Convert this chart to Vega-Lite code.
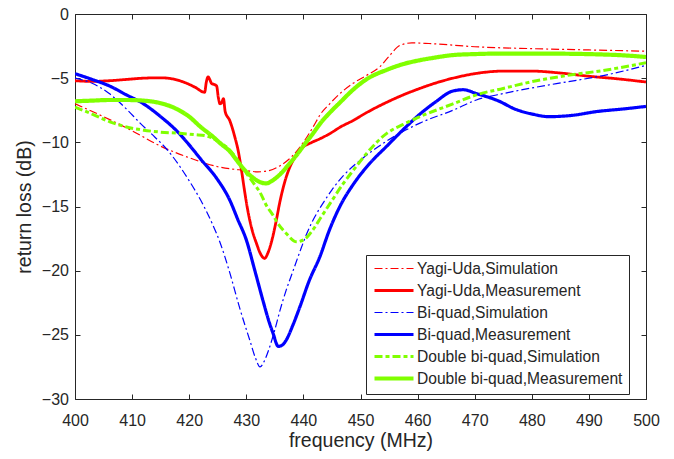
{
  "$schema": "https://vega.github.io/schema/vega-lite/v6.json",
  "width": 571,
  "height": 385,
  "autosize": {"type": "none"},
  "padding": {"left": 75, "top": 14, "right": 28, "bottom": 60},
  "background": "white",
  "config": {
    "view": {"stroke": null},
    "font": "Liberation Sans",
    "axis": {
      "domainColor": "#262626",
      "tickColor": "#262626",
      "labelColor": "#262626",
      "titleColor": "#262626",
      "labelFont": "Liberation Sans",
      "titleFont": "Liberation Sans",
      "labelFontSize": 16,
      "titleFontSize": 19.5,
      "titleFontWeight": "normal",
      "grid": false,
      "tickSize": -5,
      "domainWidth": 1,
      "tickWidth": 1
    }
  },
  "data": {"values": [
    {"f":400,"db":-7.0,"s":"Yagi-Uda,Simulation"},
    {"f":405,"db":-8.0,"s":"Yagi-Uda,Simulation"},
    {"f":410,"db":-9.1,"s":"Yagi-Uda,Simulation"},
    {"f":415,"db":-10.3,"s":"Yagi-Uda,Simulation"},
    {"f":420,"db":-11.2,"s":"Yagi-Uda,Simulation"},
    {"f":425,"db":-11.9,"s":"Yagi-Uda,Simulation"},
    {"f":430,"db":-12.2,"s":"Yagi-Uda,Simulation"},
    {"f":432,"db":-12.3,"s":"Yagi-Uda,Simulation"},
    {"f":434,"db":-12.2,"s":"Yagi-Uda,Simulation"},
    {"f":436,"db":-11.8,"s":"Yagi-Uda,Simulation"},
    {"f":438,"db":-11.1,"s":"Yagi-Uda,Simulation"},
    {"f":440,"db":-10.0,"s":"Yagi-Uda,Simulation"},
    {"f":441.7,"db":-8.8,"s":"Yagi-Uda,Simulation"},
    {"f":443,"db":-7.8,"s":"Yagi-Uda,Simulation"},
    {"f":444.6,"db":-7.0,"s":"Yagi-Uda,Simulation"},
    {"f":446.4,"db":-6.2,"s":"Yagi-Uda,Simulation"},
    {"f":448.7,"db":-5.4,"s":"Yagi-Uda,Simulation"},
    {"f":451,"db":-4.8,"s":"Yagi-Uda,Simulation"},
    {"f":453.4,"db":-4.1,"s":"Yagi-Uda,Simulation"},
    {"f":455,"db":-3.3,"s":"Yagi-Uda,Simulation"},
    {"f":456.9,"db":-2.45,"s":"Yagi-Uda,Simulation"},
    {"f":459,"db":-2.25,"s":"Yagi-Uda,Simulation"},
    {"f":462,"db":-2.3,"s":"Yagi-Uda,Simulation"},
    {"f":470,"db":-2.55,"s":"Yagi-Uda,Simulation"},
    {"f":480,"db":-2.7,"s":"Yagi-Uda,Simulation"},
    {"f":490,"db":-2.8,"s":"Yagi-Uda,Simulation"},
    {"f":500,"db":-2.9,"s":"Yagi-Uda,Simulation"},

    {"f":400,"db":-5.2,"s":"Yagi-Uda,Measurement"},
    {"f":403,"db":-5.25,"s":"Yagi-Uda,Measurement"},
    {"f":406,"db":-5.2,"s":"Yagi-Uda,Measurement"},
    {"f":409,"db":-5.1,"s":"Yagi-Uda,Measurement"},
    {"f":412,"db":-5.0,"s":"Yagi-Uda,Measurement"},
    {"f":415,"db":-4.97,"s":"Yagi-Uda,Measurement"},
    {"f":417,"db":-5.05,"s":"Yagi-Uda,Measurement"},
    {"f":419,"db":-5.3,"s":"Yagi-Uda,Measurement"},
    {"f":421,"db":-5.7,"s":"Yagi-Uda,Measurement"},
    {"f":422.7,"db":-6.1,"s":"Yagi-Uda,Measurement"},
    {"f":423.0,"db":-5.3,"s":"Yagi-Uda,Measurement"},
    {"f":423.3,"db":-4.9,"s":"Yagi-Uda,Measurement"},
    {"f":423.6,"db":-5.1,"s":"Yagi-Uda,Measurement"},
    {"f":423.9,"db":-5.4,"s":"Yagi-Uda,Measurement"},
    {"f":424.4,"db":-5.5,"s":"Yagi-Uda,Measurement"},
    {"f":424.8,"db":-5.6,"s":"Yagi-Uda,Measurement"},
    {"f":425.1,"db":-6.5,"s":"Yagi-Uda,Measurement"},
    {"f":425.4,"db":-7.0,"s":"Yagi-Uda,Measurement"},
    {"f":425.7,"db":-6.9,"s":"Yagi-Uda,Measurement"},
    {"f":426.0,"db":-6.6,"s":"Yagi-Uda,Measurement"},
    {"f":426.3,"db":-7.6,"s":"Yagi-Uda,Measurement"},
    {"f":427.1,"db":-8.3,"s":"Yagi-Uda,Measurement"},
    {"f":428.0,"db":-9.6,"s":"Yagi-Uda,Measurement"},
    {"f":428.6,"db":-10.7,"s":"Yagi-Uda,Measurement"},
    {"f":429.2,"db":-12.3,"s":"Yagi-Uda,Measurement"},
    {"f":429.7,"db":-13.8,"s":"Yagi-Uda,Measurement"},
    {"f":430.3,"db":-15.4,"s":"Yagi-Uda,Measurement"},
    {"f":431.0,"db":-16.8,"s":"Yagi-Uda,Measurement"},
    {"f":431.8,"db":-17.9,"s":"Yagi-Uda,Measurement"},
    {"f":432.5,"db":-18.7,"s":"Yagi-Uda,Measurement"},
    {"f":433.2,"db":-19.05,"s":"Yagi-Uda,Measurement"},
    {"f":433.8,"db":-18.6,"s":"Yagi-Uda,Measurement"},
    {"f":434.5,"db":-17.6,"s":"Yagi-Uda,Measurement"},
    {"f":435.2,"db":-16.2,"s":"Yagi-Uda,Measurement"},
    {"f":435.9,"db":-14.6,"s":"Yagi-Uda,Measurement"},
    {"f":436.6,"db":-13.3,"s":"Yagi-Uda,Measurement"},
    {"f":437.3,"db":-12.3,"s":"Yagi-Uda,Measurement"},
    {"f":438.2,"db":-11.4,"s":"Yagi-Uda,Measurement"},
    {"f":439,"db":-10.8,"s":"Yagi-Uda,Measurement"},
    {"f":440,"db":-10.35,"s":"Yagi-Uda,Measurement"},
    {"f":441.5,"db":-10.0,"s":"Yagi-Uda,Measurement"},
    {"f":443,"db":-9.7,"s":"Yagi-Uda,Measurement"},
    {"f":444.7,"db":-9.3,"s":"Yagi-Uda,Measurement"},
    {"f":446.5,"db":-8.8,"s":"Yagi-Uda,Measurement"},
    {"f":448.7,"db":-8.3,"s":"Yagi-Uda,Measurement"},
    {"f":451,"db":-7.7,"s":"Yagi-Uda,Measurement"},
    {"f":454.5,"db":-6.9,"s":"Yagi-Uda,Measurement"},
    {"f":457.5,"db":-6.3,"s":"Yagi-Uda,Measurement"},
    {"f":460.4,"db":-5.8,"s":"Yagi-Uda,Measurement"},
    {"f":463,"db":-5.4,"s":"Yagi-Uda,Measurement"},
    {"f":466.2,"db":-5.0,"s":"Yagi-Uda,Measurement"},
    {"f":470,"db":-4.65,"s":"Yagi-Uda,Measurement"},
    {"f":475,"db":-4.45,"s":"Yagi-Uda,Measurement"},
    {"f":480,"db":-4.45,"s":"Yagi-Uda,Measurement"},
    {"f":485,"db":-4.6,"s":"Yagi-Uda,Measurement"},
    {"f":490,"db":-4.85,"s":"Yagi-Uda,Measurement"},
    {"f":495,"db":-5.05,"s":"Yagi-Uda,Measurement"},
    {"f":500,"db":-5.3,"s":"Yagi-Uda,Measurement"},

    {"f":400,"db":-5.0,"s":"Bi-quad,Simulation"},
    {"f":403,"db":-5.4,"s":"Bi-quad,Simulation"},
    {"f":406,"db":-6.2,"s":"Bi-quad,Simulation"},
    {"f":409,"db":-7.4,"s":"Bi-quad,Simulation"},
    {"f":411.4,"db":-8.5,"s":"Bi-quad,Simulation"},
    {"f":414,"db":-9.6,"s":"Bi-quad,Simulation"},
    {"f":416,"db":-10.5,"s":"Bi-quad,Simulation"},
    {"f":418.4,"db":-11.9,"s":"Bi-quad,Simulation"},
    {"f":420,"db":-13.0,"s":"Bi-quad,Simulation"},
    {"f":422,"db":-14.5,"s":"Bi-quad,Simulation"},
    {"f":424,"db":-16.3,"s":"Bi-quad,Simulation"},
    {"f":425.4,"db":-17.8,"s":"Bi-quad,Simulation"},
    {"f":427,"db":-20.0,"s":"Bi-quad,Simulation"},
    {"f":428.9,"db":-23.0,"s":"Bi-quad,Simulation"},
    {"f":430.6,"db":-25.4,"s":"Bi-quad,Simulation"},
    {"f":431.6,"db":-26.8,"s":"Bi-quad,Simulation"},
    {"f":432.4,"db":-27.5,"s":"Bi-quad,Simulation"},
    {"f":433.2,"db":-27.0,"s":"Bi-quad,Simulation"},
    {"f":433.9,"db":-26.2,"s":"Bi-quad,Simulation"},
    {"f":435,"db":-24.6,"s":"Bi-quad,Simulation"},
    {"f":435.9,"db":-23.1,"s":"Bi-quad,Simulation"},
    {"f":437,"db":-21.5,"s":"Bi-quad,Simulation"},
    {"f":438.2,"db":-20.0,"s":"Bi-quad,Simulation"},
    {"f":439.4,"db":-18.5,"s":"Bi-quad,Simulation"},
    {"f":440.6,"db":-17.1,"s":"Bi-quad,Simulation"},
    {"f":442,"db":-15.8,"s":"Bi-quad,Simulation"},
    {"f":443.5,"db":-14.7,"s":"Bi-quad,Simulation"},
    {"f":445,"db":-13.7,"s":"Bi-quad,Simulation"},
    {"f":447,"db":-12.6,"s":"Bi-quad,Simulation"},
    {"f":450.5,"db":-11.2,"s":"Bi-quad,Simulation"},
    {"f":454.6,"db":-9.9,"s":"Bi-quad,Simulation"},
    {"f":460.4,"db":-8.5,"s":"Bi-quad,Simulation"},
    {"f":466.2,"db":-7.5,"s":"Bi-quad,Simulation"},
    {"f":470.3,"db":-6.7,"s":"Bi-quad,Simulation"},
    {"f":475,"db":-6.2,"s":"Bi-quad,Simulation"},
    {"f":480.8,"db":-5.7,"s":"Bi-quad,Simulation"},
    {"f":486,"db":-5.3,"s":"Bi-quad,Simulation"},
    {"f":492.5,"db":-4.8,"s":"Bi-quad,Simulation"},
    {"f":500,"db":-4.0,"s":"Bi-quad,Simulation"},

    {"f":400,"db":-4.65,"s":"Bi-quad,Measurement"},
    {"f":403,"db":-5.1,"s":"Bi-quad,Measurement"},
    {"f":406,"db":-5.6,"s":"Bi-quad,Measurement"},
    {"f":409,"db":-6.3,"s":"Bi-quad,Measurement"},
    {"f":412,"db":-7.0,"s":"Bi-quad,Measurement"},
    {"f":415,"db":-8.0,"s":"Bi-quad,Measurement"},
    {"f":417.8,"db":-9.1,"s":"Bi-quad,Measurement"},
    {"f":420,"db":-10.2,"s":"Bi-quad,Measurement"},
    {"f":422,"db":-11.3,"s":"Bi-quad,Measurement"},
    {"f":424.8,"db":-12.8,"s":"Bi-quad,Measurement"},
    {"f":427.1,"db":-14.5,"s":"Bi-quad,Measurement"},
    {"f":428.5,"db":-16.0,"s":"Bi-quad,Measurement"},
    {"f":430,"db":-17.6,"s":"Bi-quad,Measurement"},
    {"f":431.5,"db":-20.0,"s":"Bi-quad,Measurement"},
    {"f":432.9,"db":-22.3,"s":"Bi-quad,Measurement"},
    {"f":434,"db":-24.0,"s":"Bi-quad,Measurement"},
    {"f":434.7,"db":-24.9,"s":"Bi-quad,Measurement"},
    {"f":435.6,"db":-25.9,"s":"Bi-quad,Measurement"},
    {"f":436.3,"db":-25.8,"s":"Bi-quad,Measurement"},
    {"f":437,"db":-25.4,"s":"Bi-quad,Measurement"},
    {"f":438.2,"db":-24.2,"s":"Bi-quad,Measurement"},
    {"f":439.4,"db":-22.8,"s":"Bi-quad,Measurement"},
    {"f":441,"db":-20.8,"s":"Bi-quad,Measurement"},
    {"f":442.9,"db":-18.9,"s":"Bi-quad,Measurement"},
    {"f":444.5,"db":-16.9,"s":"Bi-quad,Measurement"},
    {"f":446.5,"db":-14.9,"s":"Bi-quad,Measurement"},
    {"f":448.7,"db":-13.3,"s":"Bi-quad,Measurement"},
    {"f":451.5,"db":-11.7,"s":"Bi-quad,Measurement"},
    {"f":454.6,"db":-10.3,"s":"Bi-quad,Measurement"},
    {"f":457.5,"db":-9.0,"s":"Bi-quad,Measurement"},
    {"f":460.4,"db":-7.8,"s":"Bi-quad,Measurement"},
    {"f":463,"db":-6.9,"s":"Bi-quad,Measurement"},
    {"f":466.2,"db":-6.0,"s":"Bi-quad,Measurement"},
    {"f":468,"db":-5.9,"s":"Bi-quad,Measurement"},
    {"f":470.3,"db":-6.2,"s":"Bi-quad,Measurement"},
    {"f":474.3,"db":-6.8,"s":"Bi-quad,Measurement"},
    {"f":477,"db":-7.4,"s":"Bi-quad,Measurement"},
    {"f":480.1,"db":-7.8,"s":"Bi-quad,Measurement"},
    {"f":483,"db":-8.0,"s":"Bi-quad,Measurement"},
    {"f":487,"db":-7.9,"s":"Bi-quad,Measurement"},
    {"f":491.4,"db":-7.6,"s":"Bi-quad,Measurement"},
    {"f":496,"db":-7.4,"s":"Bi-quad,Measurement"},
    {"f":500,"db":-7.2,"s":"Bi-quad,Measurement"},

    {"f":400,"db":-7.25,"s":"Double bi-quad,Simulation"},
    {"f":403,"db":-7.8,"s":"Double bi-quad,Simulation"},
    {"f":406.1,"db":-8.4,"s":"Double bi-quad,Simulation"},
    {"f":409,"db":-8.8,"s":"Double bi-quad,Simulation"},
    {"f":412,"db":-9.05,"s":"Double bi-quad,Simulation"},
    {"f":414.9,"db":-9.2,"s":"Double bi-quad,Simulation"},
    {"f":418.4,"db":-9.3,"s":"Double bi-quad,Simulation"},
    {"f":421,"db":-9.4,"s":"Double bi-quad,Simulation"},
    {"f":423,"db":-9.5,"s":"Double bi-quad,Simulation"},
    {"f":425,"db":-9.9,"s":"Double bi-quad,Simulation"},
    {"f":427.1,"db":-10.6,"s":"Double bi-quad,Simulation"},
    {"f":428.5,"db":-11.4,"s":"Double bi-quad,Simulation"},
    {"f":430,"db":-12.4,"s":"Double bi-quad,Simulation"},
    {"f":431.3,"db":-13.2,"s":"Double bi-quad,Simulation"},
    {"f":432.4,"db":-13.9,"s":"Double bi-quad,Simulation"},
    {"f":433.5,"db":-14.9,"s":"Double bi-quad,Simulation"},
    {"f":434.7,"db":-15.7,"s":"Double bi-quad,Simulation"},
    {"f":435.5,"db":-16.3,"s":"Double bi-quad,Simulation"},
    {"f":437,"db":-17.1,"s":"Double bi-quad,Simulation"},
    {"f":438.8,"db":-17.75,"s":"Double bi-quad,Simulation"},
    {"f":440,"db":-17.6,"s":"Double bi-quad,Simulation"},
    {"f":440.6,"db":-17.4,"s":"Double bi-quad,Simulation"},
    {"f":442,"db":-16.6,"s":"Double bi-quad,Simulation"},
    {"f":443,"db":-15.9,"s":"Double bi-quad,Simulation"},
    {"f":445.2,"db":-14.4,"s":"Double bi-quad,Simulation"},
    {"f":447,"db":-13.2,"s":"Double bi-quad,Simulation"},
    {"f":448.7,"db":-12.2,"s":"Double bi-quad,Simulation"},
    {"f":451,"db":-10.9,"s":"Double bi-quad,Simulation"},
    {"f":454.6,"db":-9.3,"s":"Double bi-quad,Simulation"},
    {"f":457.5,"db":-8.6,"s":"Double bi-quad,Simulation"},
    {"f":460.4,"db":-8.0,"s":"Double bi-quad,Simulation"},
    {"f":466.2,"db":-7.0,"s":"Double bi-quad,Simulation"},
    {"f":470.3,"db":-6.3,"s":"Double bi-quad,Simulation"},
    {"f":475,"db":-5.8,"s":"Double bi-quad,Simulation"},
    {"f":480.8,"db":-5.2,"s":"Double bi-quad,Simulation"},
    {"f":486,"db":-4.8,"s":"Double bi-quad,Simulation"},
    {"f":492.5,"db":-4.4,"s":"Double bi-quad,Simulation"},
    {"f":500,"db":-3.8,"s":"Double bi-quad,Simulation"},

    {"f":400,"db":-6.8,"s":"Double bi-quad,Measurement"},
    {"f":403,"db":-6.75,"s":"Double bi-quad,Measurement"},
    {"f":406,"db":-6.7,"s":"Double bi-quad,Measurement"},
    {"f":409,"db":-6.7,"s":"Double bi-quad,Measurement"},
    {"f":412,"db":-6.75,"s":"Double bi-quad,Measurement"},
    {"f":415,"db":-6.95,"s":"Double bi-quad,Measurement"},
    {"f":417.8,"db":-7.4,"s":"Double bi-quad,Measurement"},
    {"f":420,"db":-8.0,"s":"Double bi-quad,Measurement"},
    {"f":422,"db":-8.8,"s":"Double bi-quad,Measurement"},
    {"f":424,"db":-9.5,"s":"Double bi-quad,Measurement"},
    {"f":425.5,"db":-10.1,"s":"Double bi-quad,Measurement"},
    {"f":427.1,"db":-10.7,"s":"Double bi-quad,Measurement"},
    {"f":428.5,"db":-11.5,"s":"Double bi-quad,Measurement"},
    {"f":430,"db":-12.3,"s":"Double bi-quad,Measurement"},
    {"f":431.3,"db":-12.8,"s":"Double bi-quad,Measurement"},
    {"f":432.4,"db":-13.1,"s":"Double bi-quad,Measurement"},
    {"f":433.5,"db":-13.2,"s":"Double bi-quad,Measurement"},
    {"f":434.5,"db":-13.0,"s":"Double bi-quad,Measurement"},
    {"f":435.9,"db":-12.5,"s":"Double bi-quad,Measurement"},
    {"f":437.3,"db":-11.8,"s":"Double bi-quad,Measurement"},
    {"f":438.8,"db":-11.0,"s":"Double bi-quad,Measurement"},
    {"f":440.3,"db":-10.1,"s":"Double bi-quad,Measurement"},
    {"f":441.7,"db":-9.3,"s":"Double bi-quad,Measurement"},
    {"f":443,"db":-8.5,"s":"Double bi-quad,Measurement"},
    {"f":444.6,"db":-7.7,"s":"Double bi-quad,Measurement"},
    {"f":446.4,"db":-6.9,"s":"Double bi-quad,Measurement"},
    {"f":448.7,"db":-5.9,"s":"Double bi-quad,Measurement"},
    {"f":451,"db":-5.1,"s":"Double bi-quad,Measurement"},
    {"f":454.6,"db":-4.35,"s":"Double bi-quad,Measurement"},
    {"f":457.5,"db":-3.9,"s":"Double bi-quad,Measurement"},
    {"f":460.4,"db":-3.6,"s":"Double bi-quad,Measurement"},
    {"f":463,"db":-3.4,"s":"Double bi-quad,Measurement"},
    {"f":466.2,"db":-3.2,"s":"Double bi-quad,Measurement"},
    {"f":470.3,"db":-3.12,"s":"Double bi-quad,Measurement"},
    {"f":475,"db":-3.08,"s":"Double bi-quad,Measurement"},
    {"f":480,"db":-3.08,"s":"Double bi-quad,Measurement"},
    {"f":486.7,"db":-3.1,"s":"Double bi-quad,Measurement"},
    {"f":492,"db":-3.15,"s":"Double bi-quad,Measurement"},
    {"f":496,"db":-3.22,"s":"Double bi-quad,Measurement"},
    {"f":500,"db":-3.35,"s":"Double bi-quad,Measurement"}
  ]},
  "layer": [
    {
      "mark": {"type": "line", "interpolate": "monotone", "clip": true},
      "encoding": {
        "x": {"field": "f", "type": "quantitative",
              "scale": {"domain": [400, 500], "nice": false, "zero": false},
              "axis": {"orient": "bottom", "values": [400,410,420,430,440,450,460,470,480,490,500],
                       "labelPadding": 18, "title": "frequency (MHz)", "titlePadding": 3, "labelFlush": false}},
        "y": {"field": "db", "type": "quantitative",
              "scale": {"domain": [-30, 0], "nice": false, "zero": false},
              "axis": {"orient": "left", "values": [-30,-25,-20,-15,-10,-5,0],
                       "labelPadding": 11.5, "title": "return loss (dB)", "titlePadding": 7, "labelFlush": false}},
        "color": {"field": "s", "type": "nominal",
                  "scale": {"domain": ["Yagi-Uda,Simulation","Yagi-Uda,Measurement","Bi-quad,Simulation","Bi-quad,Measurement","Double bi-quad,Simulation","Double bi-quad,Measurement"],
                            "range": ["#ff0000","#ff0000","#0000ff","#0000ff","#80ff00","#80ff00"]},
                  "legend": {"orient": "none", "legendX": 291, "legendY": 241, "title": null,
                             "symbolType": "stroke", "symbolSize": 1521, "clipHeight": 15,
                             "rowPadding": 5.0, "padding": 6, "labelOffset": 1, "labelLimit": 0,
                             "labelFontSize": 15.6, "labelColor": "#262626", "labelFont": "Liberation Sans",
                             "strokeColor": "#262626", "fillColor": "white", "cornerRadius": 0}},
        "strokeDash": {"field": "s", "type": "nominal",
                  "scale": {"domain": ["Yagi-Uda,Simulation","Yagi-Uda,Measurement","Bi-quad,Simulation","Bi-quad,Measurement","Double bi-quad,Simulation","Double bi-quad,Measurement"],
                            "range": [[8,3,2,3],[1,0],[8,3,2,3],[1,0],[8,3,4,3],[1,0]]}},
        "strokeWidth": {"field": "s", "type": "nominal",
                  "scale": {"type": "ordinal", "domain": ["Yagi-Uda,Simulation","Yagi-Uda,Measurement","Bi-quad,Simulation","Bi-quad,Measurement","Double bi-quad,Simulation","Double bi-quad,Measurement"],
                            "range": [1.2, 2.8, 1.2, 3.2, 3, 4.2]}}
      }
    },
    {
      "mark": {"type": "line", "opacity": 0},
      "encoding": {
        "x": {"field": "f", "type": "quantitative",
              "axis": {"orient": "top", "values": [400,410,420,430,440,450,460,470,480,490,500], "labels": false, "title": null}},
        "y": {"field": "db", "type": "quantitative",
              "axis": {"orient": "right", "values": [-30,-25,-20,-15,-10,-5,0], "labels": false, "title": null}}
      }
    }
  ],
  "resolve": {"axis": {"x": "independent", "y": "independent"}}
}
